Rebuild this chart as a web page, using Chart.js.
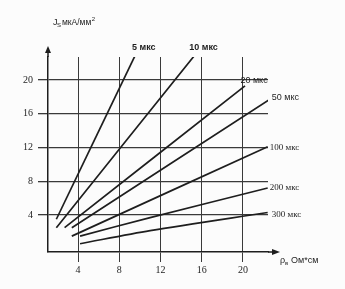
<!DOCTYPE html>
<html>
<head>
<meta charset="utf-8">
<script src="https://cdn.jsdelivr.net/npm/chart.js@4/dist/chart.umd.min.js"></script>
<style>
    html, body { margin: 0; padding: 0; background: #fcfcfc; }
    #wrap { width: 345px; height: 289px; }
</style>
</head>
<body>
<div id="wrap"><canvas id="chart" width="345" height="289"></canvas></div>
<script>
// tick labels
const X_TICKS = [4, 8, 12, 16, 20];
const Y_TICKS = [4, 8, 12, 16, 20];

// pulse durations (series names)
const SERIES = ['5 мкс', '10 мкс', '20 мкс', '50 мкс', '100 мкс', '200 мкс', '300 мкс'];

// rho (Ohm*cm) / Js (mkA/mm2), one pair of arrays per series
const RHO_5 = [1.9, 9.7];
const JS_5 = [3.5, 23.3];
const RHO_10 = [1.9, 15.5];
const JS_10 = [2.5, 23.2];
const RHO_20 = [2.7, 20.2];
const JS_20 = [2.5, 19.3];
const RHO_50 = [3.4, 22.6];
const JS_50 = [2.5, 17.7];
const RHO_100 = [3.4, 22.4];
const JS_100 = [1.5, 12.1];
const RHO_200 = [4.2, 11.0, 22.4];
const JS_200 = [1.5, 3.7, 7.2];
const RHO_300 = [4.2, 11.0, 22.4];
const JS_300 = [0.6, 2.15, 4.3];

const INK = '#1e1e1e';
const GRID = '#3a3a3a';

const seriesData = [
    [RHO_5, JS_5],
    [RHO_10, JS_10],
    [RHO_20, JS_20],
    [RHO_50, JS_50],
    [RHO_100, JS_100],
    [RHO_200, JS_200],
    [RHO_300, JS_300],
];

function toPoints(xs, ys) {
    return xs.map((x, i) => ({ x, y: ys[i] }));
}

// where each curve label sits relative to the end of its line
const LABEL_STYLE = [
    { dx: 7, dy: -5, align: 'center', font: 'bold 9px "Liberation Sans"' },
    { dx: 7, dy: -5, align: 'center', font: 'bold 9px "Liberation Sans"' },
    { dx: 9, dy: -5, align: 'center', font: '9px "Liberation Sans"' },
    { dx: 2, dy: -2, align: 'left', font: '9px "Liberation Sans"' },
    { dx: 2, dy: 1, align: 'left', font: '9px "Liberation Serif"' },
    { dx: 2, dy: 0, align: 'left', font: '9px "Liberation Serif"' },
    { dx: 4, dy: 2, align: 'left', font: '9px "Liberation Serif"' },
];

const decorations = {
    id: 'decorations',
    afterDatasetsDraw(chart) {
        const { ctx, chartArea } = chart;
        const { left, right, top, bottom } = chartArea;
        ctx.save();
        ctx.strokeStyle = INK;
        ctx.fillStyle = INK;
        ctx.lineWidth = 1.5;

        // axis extensions with arrows
        ctx.beginPath();
        ctx.moveTo(left, top);
        ctx.lineTo(left, top - 6);
        ctx.moveTo(right, bottom);
        ctx.lineTo(right + 6, bottom);
        ctx.stroke();

        ctx.beginPath();
        ctx.moveTo(left, top - 11);
        ctx.lineTo(left - 3, top - 4);
        ctx.lineTo(left + 3, top - 4);
        ctx.closePath();
        ctx.fill();

        ctx.beginPath();
        ctx.moveTo(right + 12, bottom);
        ctx.lineTo(right + 4, bottom - 3);
        ctx.lineTo(right + 4, bottom + 3);
        ctx.closePath();
        ctx.fill();

        // curve labels
        ctx.textBaseline = 'middle';
        chart.data.datasets.forEach((ds, i) => {
            const meta = chart.getDatasetMeta(i);
            const last = meta.data[meta.data.length - 1];
            const st = LABEL_STYLE[i];
            ctx.font = st.font;
            ctx.textAlign = st.align;
            ctx.fillText(ds.label, last.x + st.dx, last.y + st.dy);
        });

        // axis titles
        ctx.textAlign = 'left';
        ctx.textBaseline = 'alphabetic';
        ctx.font = '9px "Liberation Sans"';
        ctx.fillText('J', 53, 25);
        ctx.font = '6px "Liberation Sans"';
        ctx.fillText('S', 57, 27);
        ctx.font = '8.5px "Liberation Sans"';
        ctx.fillText('мкА/мм', 62, 25);
        const w = ctx.measureText('мкА/мм').width;
        ctx.font = '6px "Liberation Sans"';
        ctx.fillText('2', 62 + w + 0.5, 21);

        ctx.font = '9px "Liberation Sans"';
        ctx.fillText('ρ', 280, 263);
        ctx.font = '6px "Liberation Sans"';
        ctx.fillText('в', 285, 265);
        ctx.font = '9px "Liberation Sans"';
        ctx.fillText('Ом*см', 291, 263);
        ctx.restore();
    },
};

new Chart(document.getElementById('chart'), {
    type: 'scatter',
    data: {
        datasets: seriesData.map(([xs, ys], i) => ({
            label: SERIES[i],
            data: toPoints(xs, ys),
            showLine: true,
            borderColor: INK,
            borderWidth: 1.7,
            pointRadius: 0,
            tension: 0.3,
        })),
    },
    options: {
        responsive: false,
        animation: false,
        events: [],
        layout: {
            padding: { left: 0, top: 57, right: 77, bottom: 0 },
        },
        plugins: {
            legend: { display: false },
            tooltip: { enabled: false },
        },
        scales: {
            x: {
                type: 'linear',
                min: 1.09,
                max: 22.43,
                afterFit(scale) { scale.height = 37; },
                afterBuildTicks(axis) { axis.ticks = X_TICKS.map((v) => ({ value: v })); },
                grid: {
                    color: GRID,
                    lineWidth: 1,
                    tickLength: 10,
                    tickColor: GRID,
                },
                border: { color: INK, width: 1.5 },
                ticks: {
                    color: INK,
                    padding: 2,
                    font: { family: '"Liberation Serif"', size: 10 },
                },
            },
            y: {
                type: 'linear',
                min: -0.38,
                max: 22.72,
                afterFit(scale) { scale.width = 48; },
                afterBuildTicks(axis) { axis.ticks = Y_TICKS.map((v) => ({ value: v })); },
                grid: {
                    color: GRID,
                    lineWidth: 1.3,
                    tickLength: 10,
                    tickColor: GRID,
                },
                border: { color: INK, width: 1.5 },
                ticks: {
                    color: INK,
                    padding: 5,
                    font: { family: '"Liberation Serif"', size: 10 },
                },
            },
        },
    },
    plugins: [decorations],
});
</script>
</body>
</html>
